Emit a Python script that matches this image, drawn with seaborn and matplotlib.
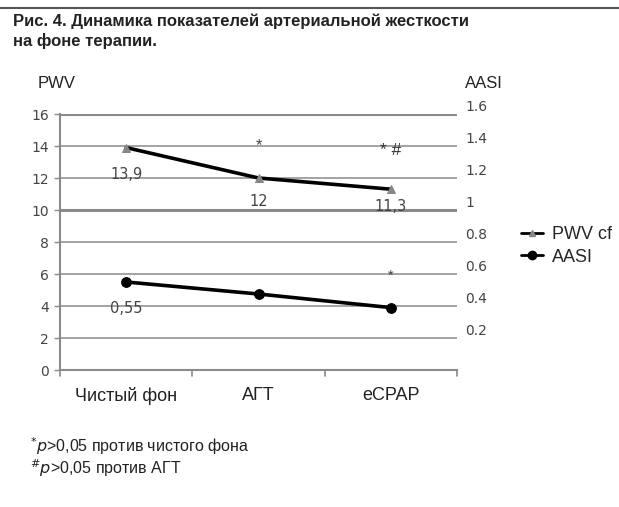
import matplotlib
matplotlib.use("Agg")
import matplotlib.pyplot as plt
from matplotlib.lines import Line2D
import seaborn as sns
import pandas as pd

# Data
periods = ["Чистый фон", "АГТ", "eCPAP"]
pwv_cf = [13.9, 12.0, 11.3]
aasi = [0.55, 0.475, 0.39]
pwv_labels = ["13,9", "12", "11,3"]
aasi_labels = ["0,55", "", ""]
pwv_ticks = [0, 2, 4, 6, 8, 10, 12, 14, 16]
aasi_ticks = [0.2, 0.4, 0.6, 0.8, 1.0, 1.2, 1.4, 1.6]
aasi_ticklabels = ["0.2", "0.4", "0.6", "0.8", "1", "1.2", "1.4", "1.6"]

sns.set_theme(style="white")
plt.rcParams["font.family"] = ["Liberation Sans", "DejaVu Sans"]

df_pwv = pd.DataFrame({"period": periods, "value": pwv_cf})
df_aasi = pd.DataFrame({"period": periods, "value": aasi})

fig = plt.figure(figsize=(6.19, 5.07), dpi=100)
ax = fig.add_axes([60 / 619, 1 - 370 / 507, 397 / 619, 256 / 507])
ax2 = ax.twinx()

grid_c = "#8a8a8a"
text_c = "#444444"

# horizontal gridlines
for t in pwv_ticks[1:]:
    lw = 2.2 if t in (10, 16) else 1.1
    ax.axhline(t, color=grid_c, lw=lw, zorder=0)

sns.lineplot(data=df_pwv, x="period", y="value", ax=ax, color="black", lw=2.6,
             marker="^", markersize=6, markerfacecolor="#888888",
             markeredgecolor="#888888", sort=False, zorder=3, legend=False)
sns.lineplot(data=df_aasi, x="period", y="value", ax=ax2, color="black", lw=2.6,
             marker="o", markersize=7, markerfacecolor="black",
             markeredgecolor="black", sort=False, zorder=3, legend=False)

ax.set_xlim(-0.5, 2.5)
ax.set_ylim(0, 16)
ax2.set_ylim(0, 1.6)
ax.set_xlabel("")
ax.set_ylabel("")
ax2.set_ylabel("")

ax.set_yticks(pwv_ticks)
ax.set_yticklabels([str(t) for t in pwv_ticks], color=text_c, fontsize=10,
                   family="DejaVu Sans")
ax.set_xticks([0, 1, 2])
ax.set_xticklabels(periods, fontsize=13, color="#222222")
ax.tick_params(axis="x", length=0, pad=12)
ax.tick_params(axis="y", length=4, color=grid_c, width=1, pad=4, left=True)
for x in [-0.5, 0.5, 1.5, 2.5]:
    ax.plot([x, x], [0, -0.35], color=grid_c, lw=1.2, clip_on=False)

ax2.set_yticks(aasi_ticks)
ax2.set_yticklabels(aasi_ticklabels, color=text_c, fontsize=10,
                    family="DejaVu Sans", va="bottom")
ax2.tick_params(axis="y", length=0, pad=6, right=True)

for a in (ax, ax2):
    for s in ["top", "right", "left", "bottom"]:
        a.spines[s].set_visible(False)
for s in ["left", "bottom"]:
    ax.spines[s].set_visible(True)
    ax.spines[s].set_color(grid_c)
    ax.spines[s].set_linewidth(1.5)

# value labels
pwv_label_drop = [1.7, 1.5, 1.1]
for i, (v, lab) in enumerate(zip(pwv_cf, pwv_labels)):
    ax.text(i, v - pwv_label_drop[i], lab, ha="center", va="center",
            fontsize=10.5, color=text_c, family="DejaVu Sans", zorder=4)
for i, (v, lab) in enumerate(zip(aasi, aasi_labels)):
    if lab:
        ax2.text(i, v - 0.165, lab, ha="center", va="center", fontsize=10.5,
                 color=text_c, family="DejaVu Sans", zorder=4)

# significance marks
ax.text(1, 14.0, "*", ha="center", va="center", fontsize=12, color=text_c)
ax.text(2, 13.7, "* #", ha="center", va="center", fontsize=12.5, color="#333333")
ax.text(2, 5.9, "*", ha="center", va="center", fontsize=10.5, color=text_c)

# axis titles
fig.text(38 / 619, 1 - 84 / 507, "PWV", fontsize=12, color="#222222", va="center")
fig.text(465 / 619, 1 - 84 / 507, "AASI", fontsize=12, color="#222222", va="center")

# legend
handles = [
    Line2D([], [], color="black", lw=2, marker="^", markersize=5,
           markerfacecolor="#888888", markeredgecolor="#888888"),
    Line2D([], [], color="black", lw=2, marker="o", markersize=6,
           markerfacecolor="black", markeredgecolor="black"),
]
fig.legend(handles, ["PWV cf", "AASI"], loc="center left",
           bbox_to_anchor=(512 / 619, 1 - 246 / 507), frameon=False,
           fontsize=13, handlelength=1.2, handletextpad=0.5, labelspacing=0.3,
           borderpad=0)

# title and frame line
fig.add_artist(Line2D([0, 1], [1 - 8 / 507, 1 - 8 / 507], color="#555555", lw=1.5))
fig.text(13 / 619, 1 - 21 / 507, "Рис. 4. Динамика показателей артериальной жесткости",
         fontsize=12, fontweight="bold", color="#222222", va="center")
fig.text(13 / 619, 1 - 41 / 507, "на фоне терапии.",
         fontsize=12, fontweight="bold", color="#222222", va="center")

# footnotes
fig.text(30 / 619, 1 - 457 / 507,
         "$^{*}$$\\it{p}$>0,05 против чистого фона\n$^{\\#}$$\\it{p}$>0,05 против АГТ",
         fontsize=11.5, color="#222222", va="center", linespacing=1.05)

fig.savefig("out.png", dpi=100)
